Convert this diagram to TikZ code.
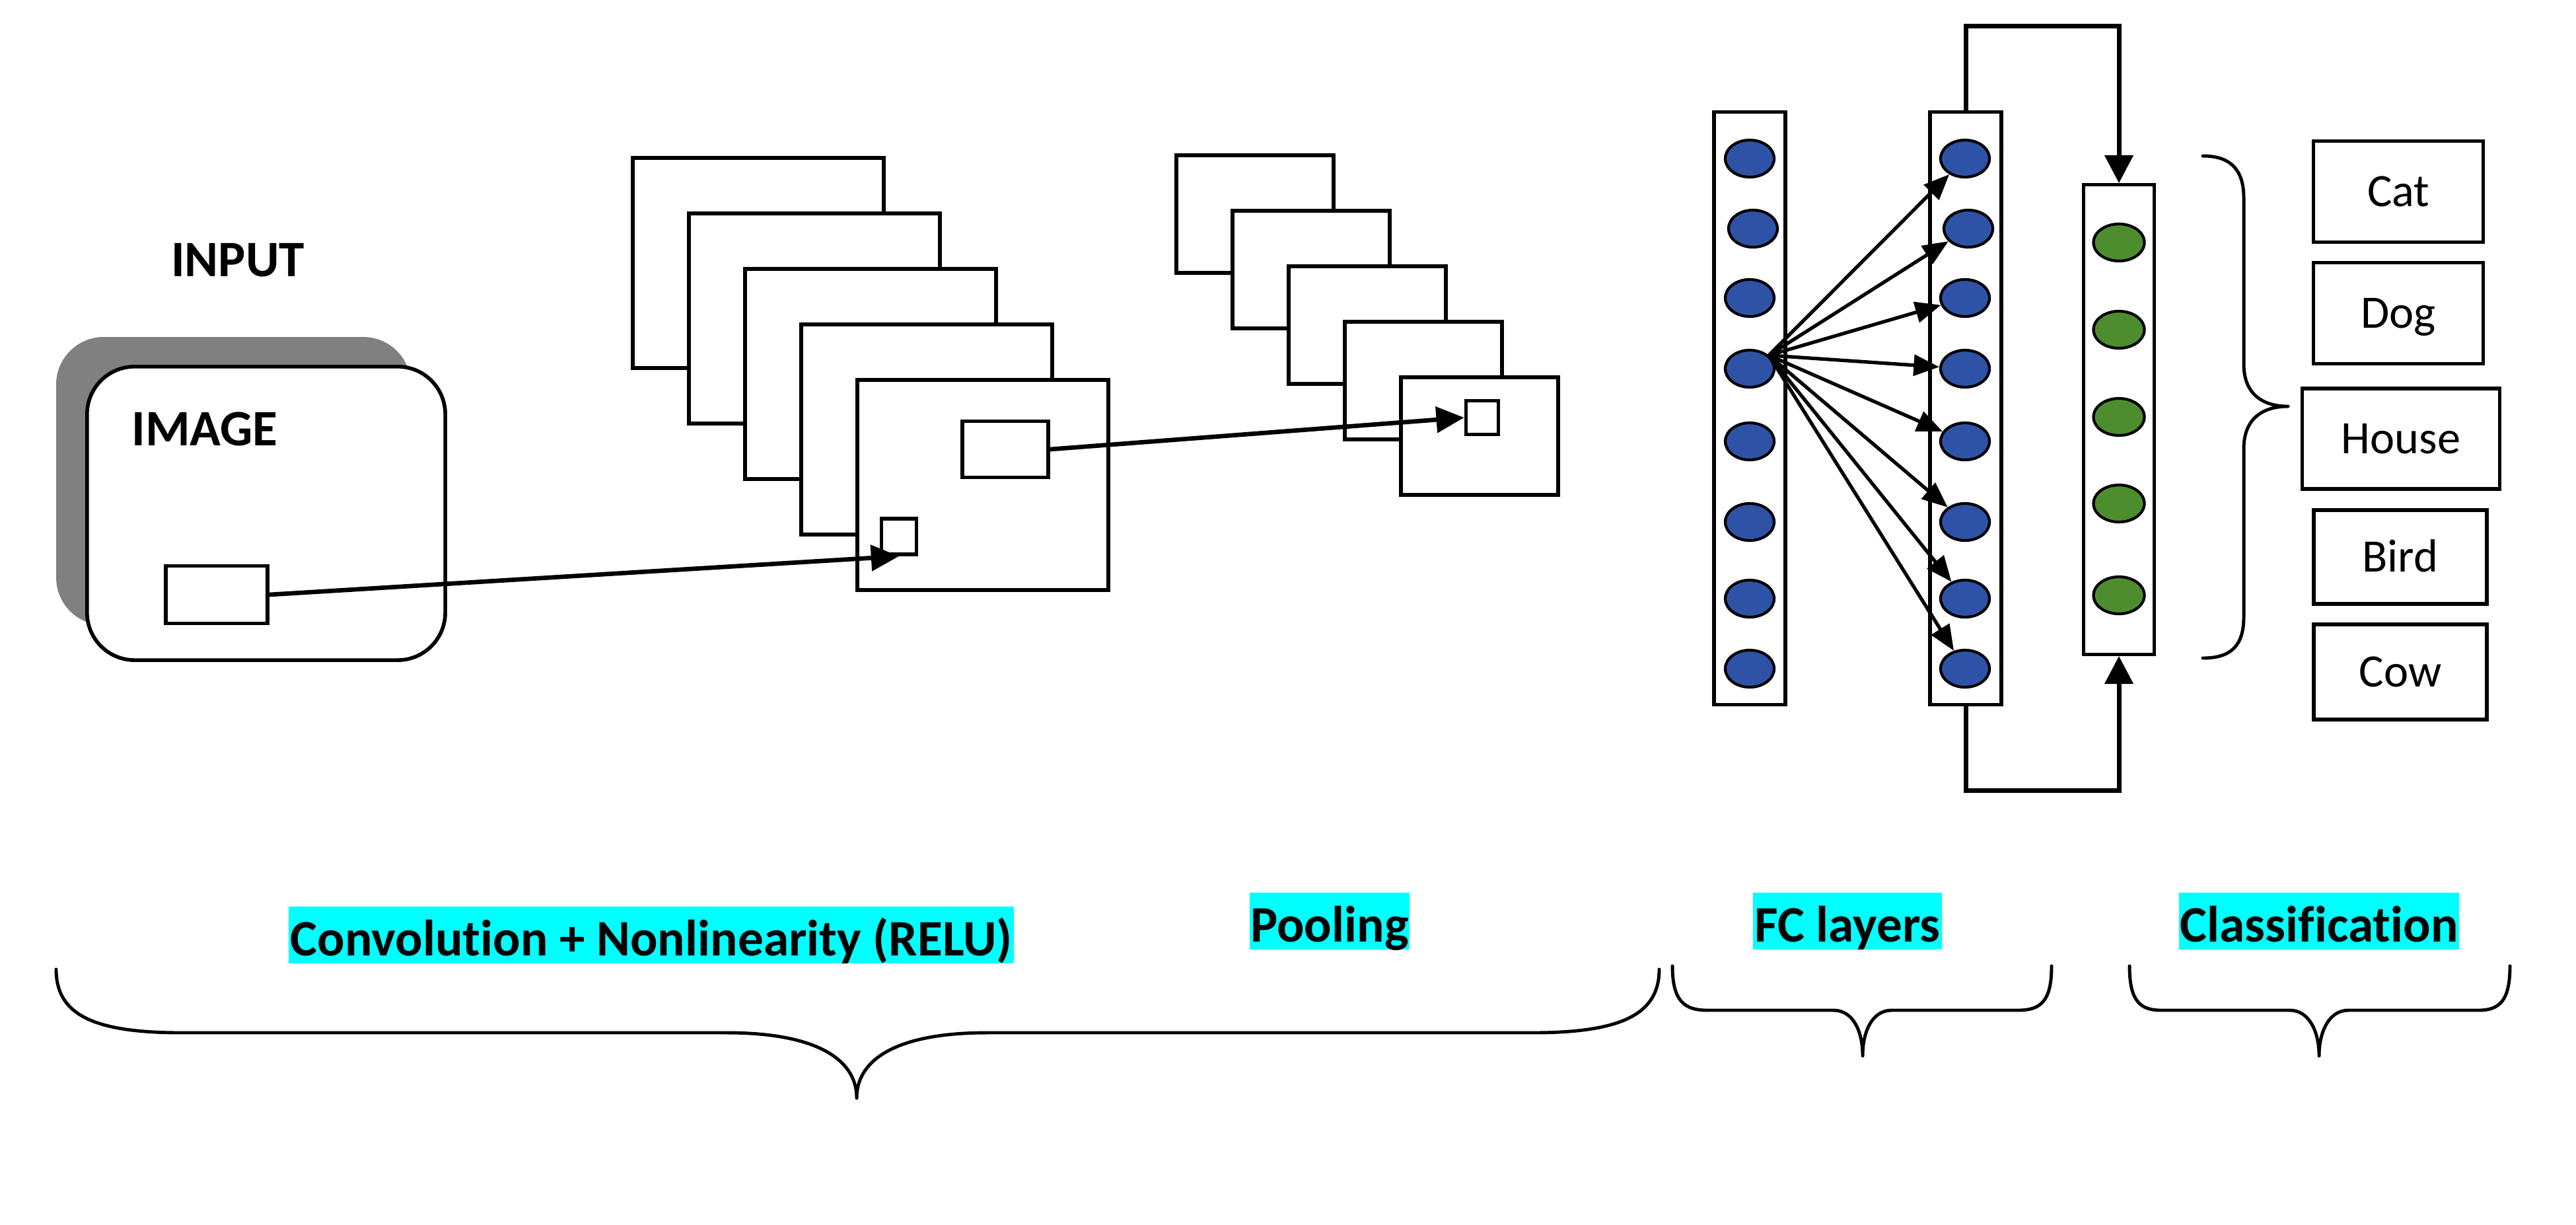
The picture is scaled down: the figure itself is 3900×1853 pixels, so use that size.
\documentclass[tikz,border=0pt]{standalone}
\usepackage{fontspec}
\setmainfont{Carlito}[Ligatures=NoCommon]
\usetikzlibrary{arrows.meta,shapes.geometric}
\definecolor{nblue}{RGB}{46,83,166}
\definecolor{ngreen}{RGB}{78,141,46}
\definecolor{hl}{RGB}{0,255,255}
\definecolor{shadowgray}{RGB}{128,128,128}
\tikzset{
  convf/.style={draw, fill=white, line width=1.6pt, anchor=north west, inner sep=0pt, minimum width=3.8cm, minimum height=3.18cm},
  poolf/.style={draw, fill=white, line width=1.6pt, anchor=north west, inner sep=0pt, minimum width=2.38cm, minimum height=1.78cm},
  patch/.style={draw, fill=white, line width=1.6pt, inner sep=0pt},
  fccol/.style={draw, fill=white, line width=1.5pt, inner sep=0pt, minimum width=1.08cm},
  bneu/.style={ellipse, draw, fill=nblue, line width=1.2pt, inner sep=0pt, minimum width=0.74cm, minimum height=0.56cm},
  gneu/.style={ellipse, draw, fill=ngreen, line width=1.2pt, inner sep=0pt, minimum width=0.77cm, minimum height=0.56cm},
  arr/.style={line width=1.9pt, -{Triangle[length=12pt,width=11pt]}},
  fcarr/.style={line width=1.5pt, -{Triangle[length=11pt,width=9pt]}},
  looparr/.style={line width=2pt, -{Triangle[length=12pt,width=12pt]}},
  clsbox/.style={draw, line width=1.5pt, inner sep=0pt, font=\fontsize{20pt}{24pt}\selectfont, text height=12.9pt, text depth=0pt},
  bigbold/.style={font=\fontsize{22pt}{26pt}\selectfont\bfseries, anchor=base, inner sep=0pt},
  hlbox/.style={fill=hl, inner sep=0pt, minimum height=0.86cm},
  hltext/.style={font=\fontsize{22pt}{26pt}\selectfont\bfseries, anchor=base, inner sep=0pt},
  brace/.style={line width=1.4pt, line cap=round, line join=round}
}
\begin{document}
\begin{tikzpicture}[x=0.01cm, y=-0.01cm]
\useasboundingbox (0,0) rectangle (3900,1853);

% ---------------- INPUT IMAGE ----------------
\node[bigbold] (inputlbl) at (360,418) {INPUT};
\fill[shadowgray, rounded corners=0.72cm] (85,510) rectangle (622,946);
\node[draw, fill=white, line width=1.6pt, rounded corners=0.72cm, anchor=north west, inner sep=0pt,
      minimum width=5.42cm, minimum height=4.44cm] (img) at (129,552) {};
\node[bigbold] (imglbl) at (310,674) {IMAGE};
\node[patch, minimum width=1.54cm, minimum height=0.87cm] (imgpatch) at (328,900) {};

% ---------------- CONVOLUTION FEATURE MAPS ----------------
\foreach \i in {0,...,4}
  \node[convf] (c\i) at ({955+85*\i},{236+84*\i}) {};
\node[patch, minimum width=1.30cm, minimum height=0.85cm] (convbig) at (1522,680) {};
\node[patch, minimum width=0.53cm, minimum height=0.54cm] (convsmall) at (1361,812) {};

% ---------------- POOLING FEATURE MAPS ----------------
\foreach \i in {0,...,4}
  \node[poolf] (p\i) at ({1778+85*\i},{232+84*\i}) {};
\node[patch, minimum width=0.49cm, minimum height=0.51cm] (poolsmall) at (2244,632) {};

\draw[arr] (imgpatch.east) -- (convsmall.south);
\draw[arr] (convbig.east) -- (poolsmall.west);

% ---------------- FC LAYERS ----------------
\node[fccol, minimum height=8.96cm] (colA) at (2649,618) {};
\node[fccol, minimum height=8.96cm] (colB) at (2976,618) {};
\node[fccol, minimum width=1.07cm, minimum height=7.10cm] (colC) at (3208,635) {};

\foreach \y/\dx [count=\k] in {240/0,346/5,451/0,558/0,668/0,790/0,906/0,1012/0} {
  \node[bneu] (a\k) at ({2649+\dx},\y) {};
  \node[bneu] (b\k) at ({2975+\dx},\y) {};
}
\foreach \y [count=\k] in {367,499,631,762,901}
  \node[gneu] (g\k) at (3208,\y) {};

\foreach \k in {1,...,8}
  \draw[fcarr] (a4.35) -- (b\k);

\draw[looparr] (colB.north) -- ++(0,-128) -| (colC.north);
\draw[looparr] (colB.south) -- ++(0,128) -| (colC.south);

% ---------------- CLASSES ----------------
\draw[brace] (3335,236) .. controls (3380,236) and (3397,260) .. (3397,300)
  -- (3397,551) .. controls (3397,600) and (3430,615) .. (3464,615)
  .. controls (3430,615) and (3397,630) .. (3397,679)
  -- (3397,933) .. controls (3397,975) and (3380,996) .. (3335,996);

\node[clsbox, minimum width=2.57cm, minimum height=1.53cm] (cat) at (3631,290) {Cat};
\node[clsbox, minimum width=2.57cm, minimum height=1.53cm] (dog) at (3631,474) {Dog};
\node[clsbox, minimum width=2.99cm, minimum height=1.52cm] (house) at (3635,664) {House};
\node[clsbox, minimum width=2.62cm, minimum height=1.42cm] (bird) at (3634,843) {Bird};
\node[clsbox, minimum width=2.62cm, minimum height=1.44cm] (cow) at (3634,1017) {Cow};

% ---------------- BOTTOM LABELS ----------------
\node[hlbox, minimum width=10.97cm] (convbg) at (986,1415) {};
\node[hltext] (convtxt) at (986,1446) {Convolution + Nonlinearity (RELU)};
\node[hlbox, minimum width=2.41cm] (poolbg) at (2013,1394) {};
\node[hltext] (pooltxt) at (2013,1425) {Pooling};
\node[hlbox, minimum width=2.86cm] (fcbg) at (2797,1394) {};
\node[hltext] (fctxt) at (2797,1425) {FC layers};
\node[hlbox, minimum width=4.23cm] (clsbg) at (3511,1394) {};
\node[hltext] (clstxt) at (3511,1425) {Classification};

% ---------------- BOTTOM BRACES ----------------
\draw[brace] (85,1467) .. controls (85,1535) and (140,1563) .. (275,1563)
  -- (1100,1563) .. controls (1230,1563) and (1297,1600) .. (1297,1662)
  .. controls (1297,1600) and (1364,1563) .. (1494,1563)
  -- (2320,1563) .. controls (2455,1563) and (2512,1535) .. (2512,1467);
\draw[brace] (2532,1462) .. controls (2532,1515) and (2550,1529) .. (2585,1529)
  -- (2776,1529) .. controls (2805,1529) and (2820,1560) .. (2820,1598)
  .. controls (2820,1560) and (2835,1529) .. (2864,1529)
  -- (3055,1529) .. controls (3090,1529) and (3106,1515) .. (3106,1462);
\draw[brace] (3224,1462) .. controls (3224,1515) and (3240,1529) .. (3272,1529)
  -- (3467,1529) .. controls (3495,1529) and (3511,1560) .. (3511,1598)
  .. controls (3511,1560) and (3527,1529) .. (3555,1529)
  -- (3752,1529) .. controls (3784,1529) and (3800,1515) .. (3800,1462);
\end{tikzpicture}
\end{document}
